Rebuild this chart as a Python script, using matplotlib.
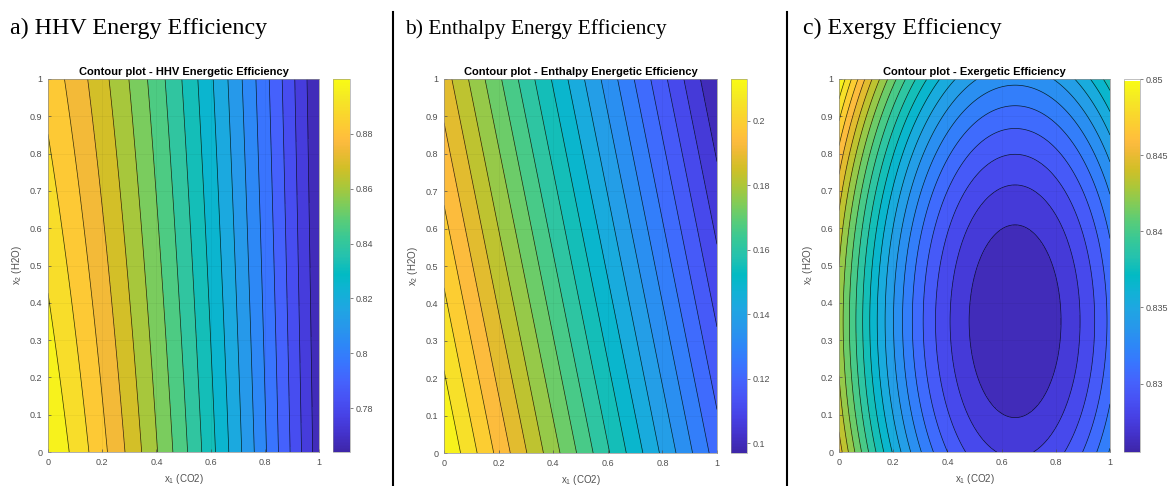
import numpy as np
import matplotlib.pyplot as plt
from matplotlib.colors import LinearSegmentedColormap, Normalize
from matplotlib.lines import Line2D
import matplotlib.cm as cm

plt.rcParams['font.family'] = ['Liberation Sans', 'DejaVu Sans']
plt.rcParams['mathtext.default'] = 'regular'

# parula anchor colours (subset of the 64-entry MATLAB map)
parula_rgb = [
    (0.2422, 0.1504, 0.6603), (0.2647, 0.1978, 0.7952), (0.2783, 0.2559, 0.8991),
    (0.2810, 0.3228, 0.9579), (0.2699, 0.3892, 0.9906), (0.2206, 0.4603, 0.9973),
    (0.1786, 0.5289, 0.9682), (0.1540, 0.5902, 0.9218), (0.1248, 0.6459, 0.8883),
    (0.0689, 0.6948, 0.8394), (0.0067, 0.7312, 0.7660), (0.1408, 0.7584, 0.6842),
    (0.2161, 0.7843, 0.5923), (0.3406, 0.8008, 0.4789), (0.5044, 0.7993, 0.3480),
    (0.6720, 0.7793, 0.2227), (0.8203, 0.7498, 0.1535), (0.9393, 0.7288, 0.2100),
    (0.9728, 0.7298, 0.2394), (0.9956, 0.7434, 0.2371), (0.9970, 0.7659, 0.2199),
    (0.9786, 0.8386, 0.1766), (0.9597, 0.9135, 0.1423), (0.9769, 0.9839, 0.0805),
]
parula_pos = [0, 3, 6, 9, 12, 15, 18, 21, 24, 27, 30, 33, 36, 39, 42, 45, 48,
              51, 52, 53, 54, 57, 60, 63]
parula = LinearSegmentedColormap.from_list(
    'parula', [(p / 63, c) for p, c in zip(parula_pos, parula_rgb)], N=256)

headings = ['a) HHV Energy Efficiency', 'b) Enthalpy Energy Efficiency', 'c) Exergy Efficiency']
titles = ['Contour plot - HHV Energetic Efficiency',
          'Contour plot - Enthalpy Energetic Efficiency',
          'Contour plot - Exergetic Efficiency']

# response surface coefficients: b0, b1 (x1), b2 (x2), b12 (x1*x2), b11 (x1^2), b22 (x2^2)
coef_hhv = [0.900, -0.088, -0.0168, 0.0138, -0.045, 0.0]
coef_enthalpy = [0.213, -0.091, -0.025, 0.0, 0.0, 0.0]
coef_exergy = [0.8447, -0.0525, -0.0122, 0.0, 0.0404, 0.0174]
n_levels = [18, 20, 20]

x_ticks = [0, 0.2, 0.4, 0.6, 0.8, 1]
x_ticklabels = ['0', '0.2', '0.4', '0.6', '0.8', '1']
y_ticks = [0, 0.1, 0.2, 0.3, 0.4, 0.5, 0.6, 0.7, 0.8, 0.9, 1]
y_ticklabels = ['0', '0.1', '0.2', '0.3', '0.4', '0.5', '0.6', '0.7', '0.8', '0.9', '1']
cb_ticks = [[0.78, 0.80, 0.82, 0.84, 0.86, 0.88],
            [0.10, 0.12, 0.14, 0.16, 0.18, 0.20],
            [0.830, 0.835, 0.840, 0.845, 0.850]]
cb_ticklabels = [['0.78', '0.8', '0.82', '0.84', '0.86', '0.88'],
                 ['0.1', '0.12', '0.14', '0.16', '0.18', '0.2'],
                 ['0.83', '0.835', '0.84', '0.845', '0.85']]


def surface(c, x1, x2):
    return c[0] + c[1]*x1 + c[2]*x2 + c[3]*x1*x2 + c[4]*x1**2 + c[5]*x2**2


W, H = 1168, 486
fig = plt.figure(figsize=(W/100, H/100), dpi=100)

# pixel boxes: axes (left, right, top, bottom), colorbar (left, right)
ax_px = [(48, 319, 79, 452), (444, 717, 79, 453), (839, 1110, 79, 452)]
cb_px = [(333, 350), (731, 747), (1124, 1140)]
head_x = [10, 405, 803]
head_size = [17.3, 15.4, 17.2]
tick_col = '#505050'

x1 = np.linspace(0, 1, 301)
x2 = np.linspace(0, 1, 301)
X1, X2 = np.meshgrid(x1, x2)

for i, coef in enumerate([coef_hhv, coef_enthalpy, coef_exergy]):
    l, r, t, b = ax_px[i]
    ax = fig.add_axes([l/W, 1-b/H, (r-l)/W, (b-t)/H])
    Z = surface(coef, X1, X2)
    zmin, zmax = Z.min(), Z.max()
    levels = np.linspace(zmin, zmax, n_levels[i] + 2)
    norm = Normalize(zmin, zmax)
    ax.contourf(X1, X2, Z, levels=levels, cmap=parula, norm=norm)
    ax.contour(X1, X2, Z, levels=levels[1:-1], colors='k', linewidths=0.5, alpha=0.8)
    ax.set_xlim(0, 1)
    ax.set_ylim(0, 1)
    ax.set_xticks(x_ticks)
    ax.set_xticklabels(x_ticklabels)
    ax.set_yticks(y_ticks)
    ax.set_yticklabels(y_ticklabels)
    ax.tick_params(direction='in', length=2.5, width=0.5, labelsize=6.5,
                   colors=tick_col, pad=4)
    ax.grid(True, color='k', alpha=0.06, lw=0.5)
    for s in ax.spines.values():
        s.set_color('#909090')
        s.set_linewidth(0.5)
    ax.set_xlabel('x$_1$ (CO2)', fontsize=7, color=tick_col, labelpad=4)
    ax.set_ylabel('x$_2$ (H2O)', fontsize=7, color=tick_col, labelpad=4)
    ax.set_title(titles[i], fontsize=8, fontweight='bold', pad=3)

    cl, cr = cb_px[i]
    cax = fig.add_axes([cl/W, 1-b/H, (cr-cl)/W, (b-t)/H])
    sm = cm.ScalarMappable(norm=norm, cmap=parula)
    cbar = fig.colorbar(sm, cax=cax)
    cbar.set_ticks(cb_ticks[i])
    cbar.set_ticklabels(cb_ticklabels[i])
    cbar.outline.set_linewidth(0.4)
    cbar.outline.set_edgecolor('#909090')
    cax.tick_params(direction='out', length=2, width=0.5, labelsize=6.5,
                    colors=tick_col, pad=2)

    fig.text(head_x[i]/W, 1-34/H, headings[i], family='Liberation Serif',
             fontsize=head_size[i], va='baseline', ha='left')

for xs in [393, 787]:
    fig.add_artist(Line2D([xs/W, xs/W], [0, 1-12/H], color='k', lw=1.5,
                          transform=fig.transFigure))

fig.savefig('out.png', dpi=100)
